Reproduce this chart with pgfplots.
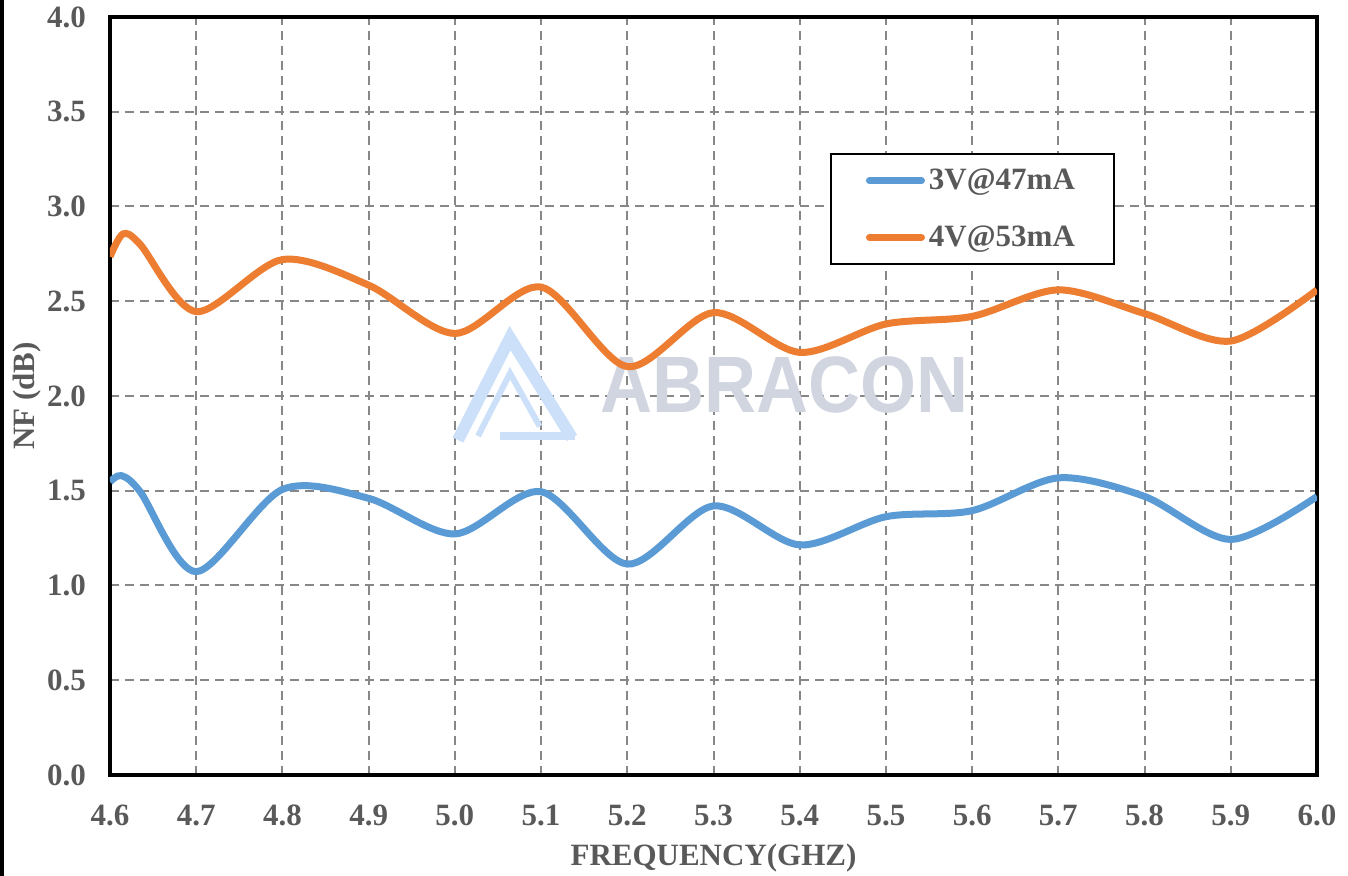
\documentclass[border=0pt]{standalone}
\usepackage{pgfplots}
\pgfplotsset{compat=1.18}
\usepackage{fontspec}
\setmainfont{Liberation Serif}
\newfontfamily\wmfont{Liberation Sans}
\definecolor{sblue}{HTML}{5B9BD5}
\definecolor{sorange}{HTML}{ED7D31}
\definecolor{gridgray}{HTML}{878787}
\definecolor{labgray}{HTML}{595959}
\definecolor{wmgray}{HTML}{D0D5E0}
\definecolor{wmblue}{HTML}{CCE0FA}
\begin{document}
\begin{tikzpicture}
\begin{axis}[
  scale only axis,
  width=603.5pt, height=379pt,
  xmin=4.6, xmax=6.0, ymin=0, ymax=4,
  xtick={4.6,4.7,4.8,4.9,5.0,5.1,5.2,5.3,5.4,5.5,5.6,5.7,5.8,5.9,6.0},
  xticklabels={4.6,4.7,4.8,4.9,5.0,5.1,5.2,5.3,5.4,5.5,5.6,5.7,5.8,5.9,6.0},
  ytick={0,0.5,1,1.5,2,2.5,3,3.5,4},
  yticklabels={0.0,0.5,1.0,1.5,2.0,2.5,3.0,3.5,4.0},
  major tick length=0pt,
  tick label style={font=\fontsize{15.5}{18}\selectfont\bfseries, text=labgray},
  xticklabel style={yshift=-11.5pt},
  yticklabel style={xshift=-8.5pt},
  grid=major,
  major grid style={gridgray, line width=1pt, dash pattern=on 4.5pt off 3pt},
  axis line style={black, line width=2pt},
  xlabel={FREQUENCY(GHZ)},
  ylabel={NF (dB)},
  every axis x label/.style={at={(axis description cs:0.5,-0.1095)}, anchor=center,
    font=\fontsize{15.5}{18}\selectfont\bfseries, text=labgray},
  every axis y label/.style={at={(axis description cs:-0.0688,0.5)}, anchor=center, rotate=90,
    font=\fontsize{15.5}{18}\selectfont\bfseries, text=labgray},
  legend style={at={(rel axis cs:0.5965,0.8206)}, anchor=north west, draw=black, line width=1pt,
    font=\fontsize{15.5}{18}\selectfont\bfseries, text=labgray,
    inner xsep=17.5pt, inner ysep=5.5pt, row sep=12.5pt},
  legend cell align=left,
  legend image code/.code={\draw[#1, line width=3.5pt, line cap=round] (0pt,0pt) -- (26pt,0pt);},
]
% watermark
\node[font=\wmfont\bfseries\fontsize{40}{40}\selectfont, text=wmgray, xscale=0.9] at (rel axis cs:0.559,0.5145) {ABRACON};
\draw[wmblue, line width=6pt, line join=miter] (rel axis cs:0.2883,0.4420) -- (rel axis cs:0.3314,0.5765) -- (rel axis cs:0.3828,0.4446);
\draw[wmblue, line width=4pt] (rel axis cs:0.3231,0.4472) -- (rel axis cs:0.3853,0.4472);
\draw[wmblue, line width=3pt] (rel axis cs:0.3050,0.4472) -- (rel axis cs:0.3314,0.5300) -- (rel axis cs:0.3560,0.4600);

\addplot[sblue, line width=3.5pt, smooth, tension=0.5] coordinates {
(4.600,1.547) (4.613,1.580) (4.635,1.495) (4.700,1.073) (4.800,1.507)
(4.900,1.460) (5.000,1.272) (5.100,1.495) (5.200,1.113) (5.300,1.420)
(5.400,1.214) (5.500,1.363) (5.600,1.395) (5.700,1.568) (5.800,1.470)
(5.900,1.243) (6.000,1.470)};
\addlegendentry{3V@47mA}
\addplot[sorange, line width=3.5pt, smooth, tension=0.5] coordinates {
(4.600,2.735) (4.615,2.855) (4.635,2.800) (4.700,2.445) (4.800,2.720)
(4.900,2.585) (5.000,2.330) (5.100,2.575) (5.200,2.155) (5.300,2.440)
(5.400,2.230) (5.500,2.380) (5.600,2.420) (5.700,2.560) (5.800,2.435)
(5.900,2.290) (6.000,2.560)};
\addlegendentry{4V@53mA}
\end{axis}
\fill[black] ([xshift=-55pt,yshift=-50.5pt]current axis.south west) rectangle ([xshift=-53pt,yshift=8.5pt]current axis.north west);
\pgfresetboundingbox
\path[use as bounding box] ([xshift=-55pt,yshift=-50.5pt]current axis.south west) rectangle ([xshift=15.5pt,yshift=8.5pt]current axis.north east);
\end{tikzpicture}
\end{document}
